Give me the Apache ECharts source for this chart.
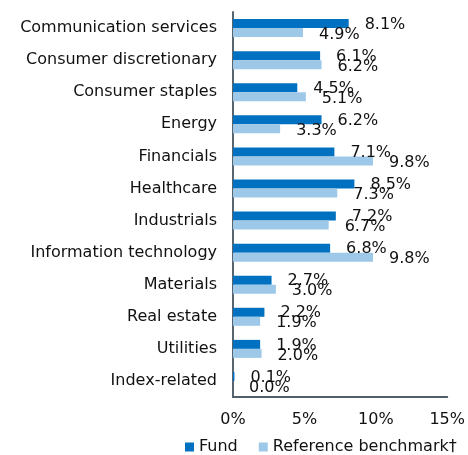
<!DOCTYPE html>
<html>
<head>
<meta charset="utf-8">
<script src="https://cdn.jsdelivr.net/npm/echarts@6/dist/echarts.min.js"></script>
<style>
  html, body { margin: 0; padding: 0; background: #fff; }
  #chart { width: 468px; height: 455px; }
</style>
</head>
<body>
<div id="chart"></div>
<script>
// sectors, top to bottom
var sectors = [
  'Communication services', 'Consumer discretionary', 'Consumer staples', 'Energy',
  'Financials', 'Healthcare', 'Industrials', 'Information technology',
  'Materials', 'Real estate', 'Utilities', 'Index-related'
]
var fund = [8.1, 6.1, 4.5, 6.2, 7.1, 8.5, 7.2, 6.8, 2.7, 2.2, 1.9, 0.1]
var benchmark = [4.9, 6.2, 5.1, 3.3, 9.8, 7.3, 6.7, 9.8, 3.0, 1.9, 2.0, 0.0]
var seriesNames = ['Fund', 'Reference benchmark\u2020']

var font = 'DejaVu Sans'
var ink = '#111'
var pct = function (p) { return p.value.toFixed(1) + '%' }

var chart = echarts.init(document.getElementById('chart'))
chart.setOption({
  animation: false,
  textStyle: { fontFamily: font },
  grid: { left: 233, right: 16, top: 12, bottom: 58, containLabel: false },
  legend: {
    left: 180,
    top: 434,
    itemWidth: 9,
    itemHeight: 9,
    itemGap: 21,
    icon: 'rect',
    textStyle: { fontFamily: font, fontSize: 16, color: ink },
    data: seriesNames
  },
  xAxis: {
    type: 'value',
    min: 0,
    max: 15,
    interval: 5,
    axisLine: { show: true, lineStyle: { color: '#4f5e69', width: 2 } },
    axisTick: { show: false },
    splitLine: { show: false },
    axisLabel: { formatter: '{value}%', fontSize: 16, color: ink, margin: 15, fontFamily: font }
  },
  yAxis: {
    type: 'category',
    inverse: true,
    data: sectors,
    axisLine: { show: true, lineStyle: { color: '#56656f', width: 2 } },
    axisTick: { show: false },
    axisLabel: { fontSize: 16, color: ink, margin: 16, fontFamily: font }
  },
  series: [
    {
      name: seriesNames[0],
      type: 'bar',
      data: fund,
      barWidth: 9,
      barGap: '0%',
      itemStyle: { color: '#0070c0' },
      label: {
        show: true, position: 'right', distance: 16, offset: [0, 1],
        formatter: pct, fontSize: 16, color: ink, fontFamily: font
      }
    },
    {
      name: seriesNames[1],
      type: 'bar',
      data: benchmark,
      barWidth: 9,
      itemStyle: { color: '#9dc8e8' },
      label: {
        show: true, position: 'right', distance: 16, offset: [0, 2],
        formatter: pct, fontSize: 16, color: ink, fontFamily: font
      }
    }
  ]
})
</script>
</body>
</html>
